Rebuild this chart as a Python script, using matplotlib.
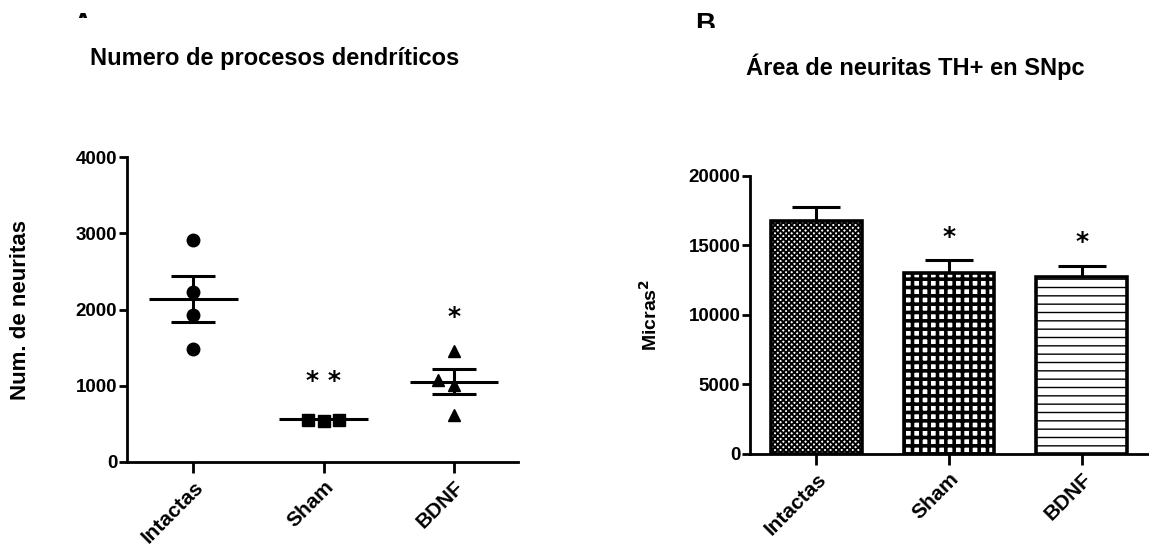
import matplotlib
matplotlib.use("Agg")
import matplotlib.pyplot as plt
from matplotlib.patches import Rectangle
import numpy as np

plt.rcParams['font.family'] = ['Liberation Sans', 'DejaVu Sans']
plt.rcParams['font.weight'] = 'bold'
plt.rcParams['axes.labelweight'] = 'bold'

groups = ['Intactas', 'Sham', 'BDNF']

# panel A - individual points
intactas_pts = [2910, 2235, 1930, 1480]
sham_pts = [555, 540, 555]
bdnf_pts = [1450, 1075, 1010, 615]
sham_dx = [-0.12, 0.0, 0.12]
bdnf_dx = [0.0, -0.12, 0.0, 0.0]
a_mean = [2140, 560, 1055]
a_sem = [300, 0, 165]
a_stars = ['', '* *', '*']
a_star_y = [0, 900, 1745]

# panel B - bars
b_mean = [16750, 12980, 12700]
b_sem = [1030, 960, 820]
b_stars = ['', '*', '*']
b_star_y = [0, 14700, 14380]
b_hatch = ['xxxxxx', '++', '--']
b_hatch_lw = [1.4, 2.6, 1.0]

fig = plt.figure(figsize=(11.49, 5.53), dpi=100)
W, H = 1149, 553

def style(ax):
    for s in ['top', 'right']:
        ax.spines[s].set_visible(False)
    for s in ['left', 'bottom']:
        ax.spines[s].set_linewidth(2.0)
    ax.tick_params(axis='y', width=2.0, length=6, labelsize=13.5, pad=1)
    ax.tick_params(axis='x', width=2.0, length=8, labelsize=15, pad=3)
    for lab in ax.get_xticklabels():
        lab.set_rotation(45)
        lab.set_ha('right')
        lab.set_va('top')
        lab.set_rotation_mode('anchor')

# ---- A
axA = fig.add_axes([127 / W, 1 - 462 / H, (518 - 127) / W, 305 / H])
axA.set_xlim(-0.51, 2.49)
axA.set_ylim(0, 4000)
axA.set_yticks([0, 1000, 2000, 3000, 4000])
axA.set_xticks(range(3))
axA.set_xticklabels(groups)
axA.plot(np.zeros(len(intactas_pts)), intactas_pts, 'o', color='black', ms=9, zorder=3)
axA.plot(1 + np.array(sham_dx), sham_pts, 's', color='black', ms=9, zorder=3)
axA.plot(2 + np.array(bdnf_dx), bdnf_pts, '^', color='black', ms=9, zorder=3)
for i in range(3):
    axA.hlines(a_mean[i], i - 0.34, i + 0.34, color='black', lw=2.2)
    if a_sem[i] > 0:
        axA.errorbar(i, a_mean[i], yerr=a_sem[i], color='black', elinewidth=2.2,
                     capsize=16, capthick=2.2, fmt='none')
    if a_stars[i]:
        axA.text(i, a_star_y[i], a_stars[i], ha='center', va='bottom', fontsize=18,
                 family=['DejaVu Sans'], fontweight='bold')
axA.set_ylabel('Num. de neuritas', fontsize=16, labelpad=32)
style(axA)
fig.text(275 / W, 1 - 58 / H, 'Numero de procesos dendríticos', ha='center', va='center', fontsize=17)

# ---- B
axB = fig.add_axes([750 / W, 1 - 454 / H, 398 / W, 278.3 / H])
axB.set_xlim(-0.5, 2.5)
axB.set_ylim(0, 20000)
axB.set_yticks([0, 5000, 10000, 15000, 20000])
axB.set_xticks(range(3))
axB.set_xticklabels(groups)
bars = axB.bar(range(3), b_mean, width=0.685, color='white', edgecolor='black', linewidth=2.6, zorder=2)
for b, h, hl in zip(bars, b_hatch, b_hatch_lw):
    b.set_hatch(h)
    if hasattr(b, 'set_hatch_linewidth'):
        b.set_hatch_linewidth(hl)
axB.errorbar(range(3), b_mean, yerr=[[0, 0, 0], b_sem], fmt='none', color='black',
             elinewidth=2.2, capsize=17, capthick=2.2, zorder=1)
for i in range(3):
    if b_stars[i]:
        axB.text(i, b_star_y[i], b_stars[i], ha='center', va='bottom', fontsize=18,
                 family=['DejaVu Sans'], fontweight='bold')
axB.set_ylabel('Micras$^\\mathbf{2}$', fontsize=14, labelpad=20)
style(axB)
fig.text(915 / W, 1 - 67 / H, 'Área de neuritas TH+ en SNpc', ha='center', va='center', fontsize=17)

# panel letters, partly hidden as in the source
for letter, x, cut in [('A', 72, 18), ('B', 695, 28)]:
    t = fig.text(x / W, 1 - 12 / H, letter, ha='left', va='top', fontsize=20)
    clip = Rectangle((0, H - cut), W, cut, transform=None)
    fig.patches.append(clip)
    clip.set_visible(False)
    t.set_clip_path(clip)

fig.savefig('out.png', dpi=100)
